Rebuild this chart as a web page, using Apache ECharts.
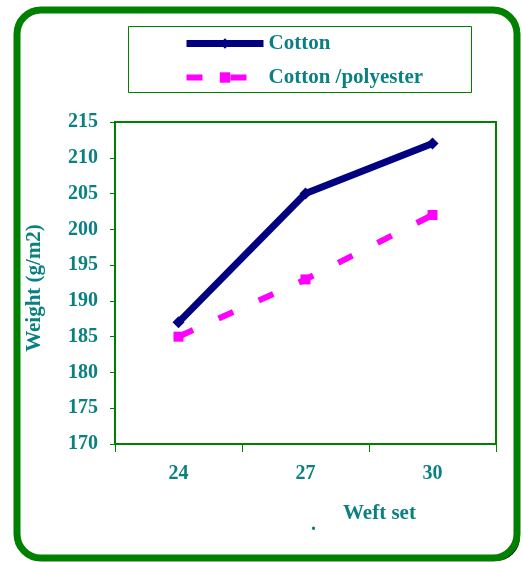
<!DOCTYPE html>
<html><head><meta charset="utf-8">
<script src="https://cdn.jsdelivr.net/npm/echarts@6/dist/echarts.min.js"></script>
<style>html,body{margin:0;padding:0;background:#fff}#c{width:523px;height:562px}</style>
</head><body><div id="c"></div>
<script>
const categories = ['24', '27', '30'];
const cottonValues = [187, 205, 212];
const polyesterValues = [185, 193, 202];
const seriesNames = ['Cotton', 'Cotton /polyester'];
const yAxisName = 'Weight (g/m2)';
const xAxisName = 'Weft set';

const teal = '#0b8080';
const green = '#008000';
const font = 'Liberation Serif';

const chart = echarts.init(document.getElementById('c'), null, {renderer: 'canvas'});
chart.setOption({
  animation: false,
  backgroundColor: '#fff',
  grid: {left: 115, right: 27, top: 122, bottom: 118, show: true, borderColor: green, borderWidth: 2, backgroundColor: 'transparent'},
  legend: {
    orient: 'vertical', left: 183, top: 33, padding: 0, itemWidth: 77, itemHeight: 13, itemGap: 13,
    textStyle: {color: teal, fontFamily: font, fontWeight: 'bold', fontSize: 21},
    data: [
      {name: seriesNames[0], lineStyle: {width: 7}},
      {name: seriesNames[1], lineStyle: {width: 6}}
    ]
  },
  graphic: [
    {type: 'rect', z: -20, shape: {x: 20, y: 13, width: 500, height: 548, r: 24}, style: {fill: '#000'}},
    {type: 'rect', z: -10, shape: {x: 17, y: 10, width: 500, height: 548, r: 24}, style: {fill: '#fff', stroke: green, lineWidth: 7}},
    {type: 'rect', z: 1, shape: {x: 128.5, y: 26.5, width: 343, height: 66}, style: {fill: 'none', stroke: green, lineWidth: 1}},
    {type: 'text', z: 5, left: 343, top: 503, style: {text: xAxisName, fill: teal, font: 'bold 21px "Liberation Serif"'}},
    {type: 'text', z: 5, left: 311, top: 515, style: {text: '.', fill: teal, font: 'bold 20px "Liberation Serif"'}}
  ],
  xAxis: {
    type: 'category', data: categories, boundaryGap: true,
    axisLine: {lineStyle: {color: green, width: 2}},
    axisTick: {show: true, length: 8, lineStyle: {color: green, width: 1}},
    axisLabel: {color: teal, fontFamily: font, fontWeight: 'bold', fontSize: 20, margin: 20},
    splitLine: {show: false}
  },
  yAxis: {
    type: 'value', min: 170, max: 215, interval: 5,
    name: yAxisName, nameLocation: 'middle', nameGap: 70, nameRotate: 90,
    nameTextStyle: {color: teal, fontFamily: font, fontWeight: 'bold', fontSize: 21, padding: [0, 10, 0, 0]},
    axisLine: {show: true, lineStyle: {color: green, width: 2}},
    axisTick: {show: true, length: 5, lineStyle: {color: green, width: 1}},
    axisLabel: {color: teal, fontFamily: font, fontWeight: 'bold', fontSize: 20, margin: 17},
    splitLine: {show: false}
  },
  series: [
    {name: seriesNames[0], type: 'line', data: cottonValues, symbol: 'diamond', symbolSize: 12,
      itemStyle: {color: '#000080'}, lineStyle: {color: '#000080', width: 7}},
    {name: seriesNames[1], type: 'line', data: polyesterValues, symbol: 'rect', symbolSize: 10,
      itemStyle: {color: '#ff00ff'}, lineStyle: {color: '#ff00ff', width: 6, type: [16, 28]}}
  ]
});
</script></body></html>
